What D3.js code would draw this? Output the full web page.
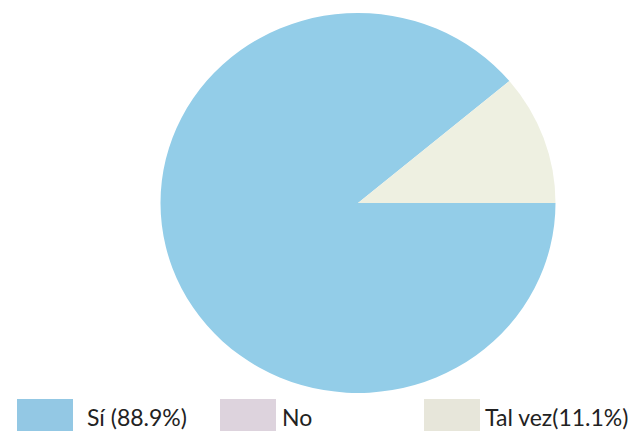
<!DOCTYPE html>
<html><head><meta charset="utf-8">
<script src="https://cdn.jsdelivr.net/npm/d3@7"></script>
<style>body{margin:0;background:#fff}svg{display:block}</style>
</head><body>
<script>
const categories = ["Sí (88.9%)", "No", "Tal vez(11.1%)"];
const values = [88.9, 0, 11.1];
const sliceColors = ["#93cde8", "#ddd3dd", "#eef0e1"];
const legendColors = ["#93c8e4", "#ddd3dd", "#e7e6da"];

const W = 634, H = 431;
const svg = d3.select("body").append("svg").attr("width", W).attr("height", H);

const cx = 358, cy = 203, ry = 190, rx = 197.5;
const pie = d3.pie().sort(null).startAngle(Math.PI / 2).endAngle(Math.PI / 2 + 2 * Math.PI);
const arc = d3.arc().innerRadius(0).outerRadius(ry);
const g = svg.append("g").attr("transform", `translate(${cx},${cy}) scale(${rx / ry},1)`);
g.selectAll("path").data(pie(values)).join("path")
  .attr("d", arc).attr("fill", (d, i) => sliceColors[i]);

const legendX = [17, 220, 424];
const textX = [87, 282, 485];
const lg = svg.append("g");
categories.forEach((c, i) => {
  lg.append("rect").attr("x", legendX[i]).attr("y", 399).attr("width", 56).attr("height", 34).attr("fill", legendColors[i]);
  lg.append("text").attr("x", textX[i]).attr("y", 426).attr("font-family", "Lato, sans-serif")
    .attr("font-weight", 400).attr("font-size", 23).attr("fill", "#222").text(c);
});
</script>
</body></html>
